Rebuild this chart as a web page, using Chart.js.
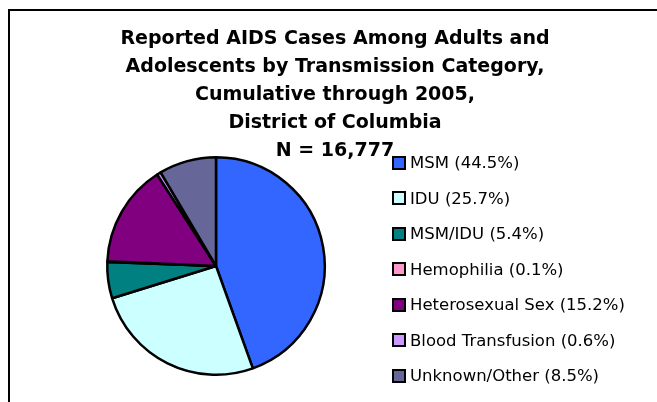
<!DOCTYPE html>
<html>
<head>
<meta charset="utf-8">
<script src="https://cdn.jsdelivr.net/npm/chart.js@4/dist/chart.umd.min.js"></script>
<style>
  html, body { margin: 0; padding: 0; background: #fff; }
  body { width: 657px; height: 402px; overflow: hidden; position: relative; }
  #frame { position: absolute; left: 8px; top: 9px; width: 700px; height: 450px; border: 2px solid #000; }
  #wrap { position: absolute; left: 0; top: 0; width: 657px; height: 402px; }
  #title { position: absolute; left: 85px; width: 500px; top: 23px; text-align: center;
           font: bold 19px "DejaVu Sans", sans-serif; line-height: 28px; color: #000; white-space: nowrap; }
  #legend { position: absolute; left: 392px; top: 145px; font: 16.5px "DejaVu Sans", sans-serif; color: #000; }
  .item { height: 35.5px; display: flex; align-items: center; white-space: nowrap; }
  .box { width: 10px; height: 10px; border: 2px solid #000; margin-right: 4px; }
</style>
</head>
<body>
<div id="frame"></div>
<div id="wrap"><canvas id="pie" width="657" height="402"></canvas></div>
<div id="title"></div>
<div id="legend"></div>
<script>
// reported AIDS cases, DC, cumulative through 2005
const titleLines = [
  'Reported AIDS Cases Among Adults and',
  'Adolescents by Transmission Category,',
  'Cumulative through 2005,',
  'District of Columbia',
  'N = 16,777'
];
const categories = ['MSM', 'IDU', 'MSM/IDU', 'Hemophilia', 'Heterosexual Sex', 'Blood Transfusion', 'Unknown/Other'];
const shares = [44.5, 25.7, 5.4, 0.1, 15.2, 0.6, 8.5];
const colors = ['#3366FF', '#CCFFFF', '#008080', '#FF99CC', '#800080', '#CC99FF', '#666699'];

document.getElementById('title').innerHTML = titleLines.join('<br>');

document.getElementById('legend').innerHTML = categories.map((c, i) =>
  `<div class="item"><div class="box" style="background:${colors[i]}"></div>${c} (${shares[i].toFixed(1)}%)</div>`
).join('');

new Chart(document.getElementById('pie'), {
  type: 'pie',
  data: {
    labels: categories,
    datasets: [{ data: shares, backgroundColor: colors, borderColor: '#000', borderWidth: 2.5 }]
  },
  options: {
    responsive: false,
    animation: false,
    events: [],
    layout: { padding: { left: 106, right: 331, top: 156, bottom: 26 } },
    plugins: { legend: { display: false }, title: { display: false }, tooltip: { enabled: false } }
  }
});
</script>
</body>
</html>
